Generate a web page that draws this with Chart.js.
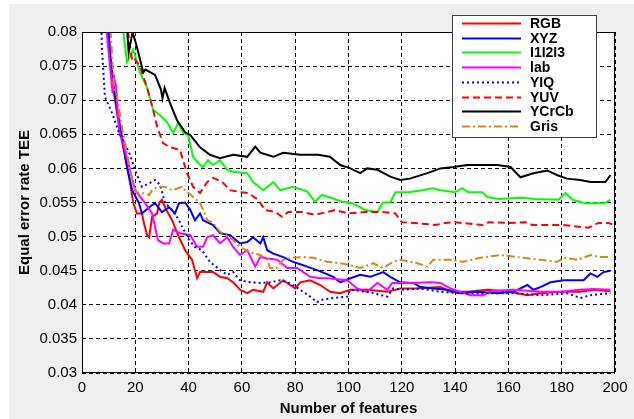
<!DOCTYPE html>
<html>
<head>
<meta charset="utf-8">
<script src="https://cdn.jsdelivr.net/npm/chart.js@4.4.0/dist/chart.umd.min.js"></script>
<style>
  html, body { margin: 0; padding: 0; background: #fff; }
  canvas { display: block; }
</style>
</head>
<body>
<canvas id="chart" width="634" height="419"></canvas>
<script>
// Valeurs (x = nombre de caractéristiques, y = TEE)
const seriesNames = ['RGB', 'XYZ', 'I1I2I3', 'lab', 'YIQ', 'YUV', 'YCrCb', 'Gris'];

const rgbX = [8, 10, 12, 14, 16, 18, 19.2, 20.6, 22.5, 23, 24.4, 25.2, 26.3, 28.2, 29, 30, 31.5, 33.8, 36.4, 38.7, 41.3, 43.2, 44.3, 49.2, 51.8, 54.5, 56.7, 59.3, 62, 64.2, 68, 69.5, 71.8, 75.5, 78.1, 80, 81.9, 85.6, 89.4, 93.1, 96.9, 100.7, 107, 114.6, 119.4, 125.8, 134.5, 138.2, 144.6, 152.1, 159.6, 167.1, 172, 179.5, 187, 191.9, 198.3];
const rgbY = [0.085, 0.078, 0.071, 0.066, 0.062, 0.058, 0.055, 0.0534, 0.0534, 0.0524, 0.0502, 0.0499, 0.0529, 0.0534, 0.055, 0.0554, 0.054, 0.0524, 0.0499, 0.048, 0.0466, 0.0439, 0.0448, 0.0448, 0.0441, 0.0439, 0.0433, 0.0422, 0.0417, 0.0422, 0.0419, 0.0433, 0.0424, 0.0436, 0.0429, 0.0424, 0.0433, 0.0436, 0.0429, 0.0419, 0.0417, 0.0422, 0.0422, 0.0419, 0.0424, 0.0424, 0.0426, 0.0419, 0.0419, 0.0422, 0.042, 0.0414, 0.0417, 0.0419, 0.0419, 0.0422, 0.042];

const xyzX = [9, 11, 13, 15, 17, 18.8, 21.4, 22.5, 25.2, 27.4, 30, 32.7, 34.9, 36.4, 38.7, 40.5, 42.4, 44.3, 45.4, 49.2, 51.8, 55.6, 59.3, 62, 64.2, 66.9, 68, 69.5, 71.8, 75.5, 79.2, 83, 84.5, 89.4, 94.3, 96.9, 100.7, 104.4, 108.2, 113, 115.7, 119.4, 124.3, 127, 131.8, 137.1, 142, 148.4, 155.9, 161.9, 167.1, 169.4, 172, 175.8, 180.7, 188.2, 190.8, 193.4, 195.7, 198.3];
const xyzY = [0.085, 0.075, 0.069, 0.0646, 0.06, 0.0568, 0.0549, 0.0534, 0.0543, 0.0549, 0.0536, 0.0543, 0.0534, 0.0549, 0.055, 0.054, 0.0524, 0.0534, 0.0524, 0.0517, 0.0505, 0.0502, 0.049, 0.0492, 0.0499, 0.049, 0.0499, 0.048, 0.0475, 0.047, 0.0463, 0.0458, 0.0456, 0.0449, 0.0441, 0.0433, 0.0439, 0.0444, 0.0441, 0.0448, 0.0441, 0.0433, 0.0432, 0.0426, 0.0424, 0.0422, 0.0417, 0.0419, 0.0417, 0.0419, 0.0429, 0.0422, 0.0426, 0.0433, 0.0436, 0.0436, 0.0446, 0.0441, 0.0448, 0.045];

const i1i2i3X = [15, 15.5, 16.9, 19.2, 21.8, 24.4, 26.7, 29.3, 31.9, 34.2, 36.1, 38, 39.8, 41.7, 43.6, 45.4, 47.3, 49.2, 51.8, 54.5, 56.7, 62, 64.2, 68, 71.8, 74.4, 79.2, 84.5, 87.5, 90, 92.4, 97.7, 101.4, 106.3, 110.8, 113, 115.7, 117.6, 122.5, 127.7, 131.5, 134.5, 140, 142.7, 145, 150.2, 152.1, 156.2, 165.3, 170.1, 178.8, 181.4, 184, 188.9, 193.8, 196, 198.3];
const i1i2i3Y = [0.085, 0.08, 0.0756, 0.0774, 0.074, 0.0719, 0.0686, 0.0678, 0.0668, 0.0652, 0.0667, 0.0652, 0.0649, 0.0617, 0.0608, 0.0602, 0.0612, 0.0605, 0.0612, 0.0598, 0.0595, 0.0593, 0.058, 0.0568, 0.058, 0.0568, 0.0573, 0.0566, 0.0551, 0.0561, 0.0558, 0.0551, 0.0549, 0.0539, 0.0536, 0.055, 0.055, 0.0565, 0.0565, 0.0568, 0.0571, 0.0568, 0.0565, 0.0571, 0.0565, 0.0565, 0.0558, 0.0555, 0.0557, 0.0555, 0.0554, 0.0564, 0.0554, 0.0549, 0.0549, 0.0549, 0.0554];

const labX = [8, 10, 11.5, 12, 12.8, 13.9, 16.1, 18, 19.9, 23.7, 26.3, 28.5, 30.5, 32.7, 34.2, 36.8, 40.6, 43.2, 45.4, 47, 49.2, 51.8, 54.5, 56.7, 59.3, 62, 65, 66.9, 69.5, 73.3, 77, 80.8, 83, 85.6, 89.4, 92, 99.5, 103.3, 107, 110.8, 114.6, 116.4, 119.4, 124, 130.7, 134.5, 138.2, 145.7, 150.6, 153.2, 161.9, 172, 179.5, 187, 191.9, 198.3];
const labY = [0.085, 0.077, 0.071, 0.0734, 0.072, 0.0656, 0.0627, 0.0598, 0.0568, 0.0549, 0.0534, 0.0495, 0.049, 0.049, 0.051, 0.0505, 0.0502, 0.0485, 0.0485, 0.0499, 0.0502, 0.049, 0.0499, 0.0485, 0.0473, 0.048, 0.0456, 0.047, 0.0468, 0.0466, 0.0454, 0.0454, 0.0448, 0.0441, 0.0439, 0.0439, 0.0436, 0.0424, 0.0419, 0.0432, 0.0422, 0.0432, 0.0432, 0.0432, 0.0433, 0.0432, 0.0424, 0.0414, 0.0414, 0.042, 0.0422, 0.0419, 0.0419, 0.0422, 0.0423, 0.0422];

const yiqX = [7, 7.5, 8.6, 11.3, 13.9, 17.7, 19.9, 22.5, 25.2, 27.4, 29.3, 31.2, 33.8, 36.4, 37.6, 40.2, 42.4, 45, 48, 51.8, 54.5, 56.7, 59.3, 63.1, 66.9, 70.6, 74.4, 77, 79.2, 81.9, 85.6, 88.2, 89.4, 94.3, 99.5, 100.7, 107, 114.6, 116.8, 120.6, 127, 134.5, 142, 152.1, 161.9, 172, 182, 187, 190.8, 198.3];
const yiqY = [0.085, 0.0774, 0.0705, 0.0681, 0.0652, 0.0623, 0.0598, 0.0573, 0.0578, 0.0583, 0.0576, 0.0549, 0.0539, 0.0524, 0.0514, 0.0495, 0.0485, 0.048, 0.0463, 0.0451, 0.0444, 0.0448, 0.0436, 0.0433, 0.0432, 0.0433, 0.0436, 0.0433, 0.0429, 0.0422, 0.0412, 0.0404, 0.0407, 0.041, 0.0412, 0.0422, 0.0419, 0.0412, 0.0424, 0.0422, 0.0424, 0.0419, 0.0417, 0.0417, 0.0417, 0.0414, 0.0417, 0.041, 0.0414, 0.0417];

const yuvX = [17, 17.3, 18.8, 19.6, 21.8, 24.4, 26.7, 28.2, 30.4, 33.1, 36.8, 39.4, 41.7, 44.3, 47, 49.2, 52.6, 55.6, 60, 62.3, 66.1, 68.7, 72.5, 75.1, 77.4, 82.6, 87.5, 95, 100, 106.3, 112.7, 117.6, 120, 125, 132.6, 136.3, 140, 150.2, 152.5, 160, 166.4, 169, 176.5, 180.3, 187.8, 190, 193.8, 197.6, 199];
const yuvY = [0.085, 0.08, 0.0759, 0.0762, 0.0749, 0.0719, 0.0686, 0.0661, 0.0637, 0.0631, 0.0627, 0.0593, 0.0573, 0.0564, 0.058, 0.0586, 0.058, 0.0568, 0.0565, 0.0564, 0.0554, 0.0539, 0.0536, 0.0529, 0.0536, 0.0536, 0.0532, 0.0539, 0.0534, 0.0536, 0.0536, 0.0534, 0.0521, 0.052, 0.0517, 0.052, 0.0521, 0.0517, 0.0521, 0.052, 0.0521, 0.0517, 0.0517, 0.0517, 0.0514, 0.0513, 0.052, 0.052, 0.0518];

const ycrcbX = [16.5, 17, 17.5, 19, 20.6, 23, 23.8, 27.4, 29.6, 30.2, 31, 33, 35.6, 38.7, 40.6, 44.3, 48, 51.8, 56.7, 62, 65, 66.9, 71.8, 75.5, 81.9, 88.6, 93, 96.9, 100.7, 104.4, 107, 110.8, 115.7, 119.4, 123, 129.6, 134.5, 139.4, 144.6, 149.5, 155.9, 160.8, 164.5, 169.4, 174.6, 178.4, 182, 187, 190.8, 196.4, 198.3];
const ycrcbY = [0.085, 0.08, 0.077, 0.08, 0.0778, 0.0741, 0.0745, 0.0737, 0.0716, 0.0703, 0.0718, 0.0696, 0.0671, 0.0653, 0.0649, 0.0631, 0.062, 0.0615, 0.062, 0.0617, 0.0632, 0.0623, 0.0617, 0.0623, 0.062, 0.062, 0.0617, 0.0605, 0.06, 0.0593, 0.06, 0.0598, 0.0588, 0.0583, 0.0585, 0.0593, 0.06, 0.0602, 0.0605, 0.0605, 0.0605, 0.0602, 0.0587, 0.0593, 0.0597, 0.059, 0.0585, 0.0583, 0.058, 0.058, 0.059];

const grisX = [10, 12, 13, 15, 17, 19, 20.5, 22.5, 25.2, 26.3, 28.2, 31.2, 33.8, 37.6, 38.7, 41.7, 44.3, 45.5, 47, 49.2, 51.8, 55.6, 59.3, 63.1, 66.9, 69.5, 70.6, 73, 75.5, 79.2, 83, 86.8, 92, 96.9, 100.7, 104.4, 109.3, 113, 116.8, 119.4, 125.8, 129.6, 131.8, 138.2, 143.1, 149.5, 157, 163.3, 172, 178.4, 180.7, 186, 190.8, 194.5, 198.3];
const grisY = [0.085, 0.0718, 0.071, 0.066, 0.062, 0.058, 0.0565, 0.0564, 0.0561, 0.0568, 0.0573, 0.0573, 0.0568, 0.0573, 0.0568, 0.0558, 0.0549, 0.0539, 0.0524, 0.052, 0.0507, 0.0499, 0.0485, 0.0477, 0.0473, 0.0466, 0.0454, 0.0454, 0.0466, 0.0469, 0.047, 0.0469, 0.0463, 0.0461, 0.0458, 0.0454, 0.0461, 0.0454, 0.0463, 0.0466, 0.0461, 0.0456, 0.0466, 0.0466, 0.0463, 0.0469, 0.0473, 0.047, 0.0466, 0.0463, 0.0469, 0.0466, 0.0473, 0.047, 0.047];

// Graduations des axes
const xTicks = [0, 20, 40, 60, 80, 100, 120, 140, 160, 180, 200];
const yTicks = [0.03, 0.035, 0.04, 0.045, 0.05, 0.055, 0.06, 0.065, 0.07, 0.075, 0.08];

// Fusionne x et y en points pour Chart.js
function toPoints(xs, ys) {
    return xs.map((x, i) => ({ x: x, y: ys[i] }));
}

const styles = [
    { color: '#ff0000', dash: [] },
    { color: '#0000ff', dash: [] },
    { color: '#00ff00', dash: [] },
    { color: '#ff00ff', dash: [] },
    { color: '#0000ff', dash: [2, 3] },
    { color: '#ff0000', dash: [7, 4] },
    { color: '#000000', dash: [] },
    { color: '#dd8418', dash: [8, 3, 2, 3] }
];
const allX = [rgbX, xyzX, i1i2i3X, labX, yiqX, yuvX, ycrcbX, grisX];
const allY = [rgbY, xyzY, i1i2i3Y, labY, yiqY, yuvY, ycrcbY, grisY];

const datasets = seriesNames.map((name, i) => ({
    label: name,
    data: toPoints(allX[i], allY[i]),
    borderColor: styles[i].color,
    borderDash: styles[i].dash,
    borderWidth: 2,
    pointRadius: 0,
    tension: 0,
    fill: false,
    clip: 0,
    order: seriesNames.length - i
}));

// Fond gris de la figure, zone blanche, cadre et légende façon MATLAB
const figurePlugin = {
    id: 'figure',
    beforeDraw(chart) {
        const ctx = chart.ctx;
        const a = chart.chartArea;
        ctx.save();
        ctx.fillStyle = '#ffffff';
        ctx.fillRect(0, 0, chart.width, chart.height);
        ctx.fillStyle = '#efefef';
        ctx.fillRect(9, 4, chart.width - 9, chart.height - 4);
        ctx.fillStyle = '#ffffff';
        ctx.fillRect(a.left, a.top, a.right - a.left, a.bottom - a.top);
        ctx.restore();
    },
    afterDatasetsDraw(chart) {
        const ctx = chart.ctx;
        const a = chart.chartArea;
        ctx.save();
        ctx.strokeStyle = '#000';
        ctx.lineWidth = 1;
        ctx.strokeRect(a.left + 0.5, a.top + 0.5, a.right - a.left - 1, a.bottom - a.top - 1);

        // légende
        const bx = 452, by = 15, bw = 144, bh = 122;
        ctx.fillStyle = '#ffffff';
        ctx.fillRect(bx, by, bw, bh);
        ctx.strokeStyle = '#404040';
        ctx.strokeRect(bx + 0.5, by + 0.5, bw, bh);
        ctx.font = 'bold 14px "Liberation Sans", Arial';
        ctx.textBaseline = 'middle';
        ctx.textAlign = 'left';
        chart.data.datasets.forEach((ds, i) => {
            const y = Math.round(23 + i * 14.7) + 0.5;
            ctx.strokeStyle = ds.borderColor;
            ctx.lineWidth = 2;
            ctx.setLineDash(ds.borderDash);
            ctx.beginPath();
            ctx.moveTo(462, y);
            ctx.lineTo(521, y);
            ctx.stroke();
            ctx.setLineDash([]);
            ctx.fillStyle = '#000';
            ctx.fillText(ds.label, 530, y + 1);
        });
        ctx.restore();
    }
};

new Chart(document.getElementById('chart'), {
    type: 'line',
    data: { datasets: datasets },
    options: {
        responsive: false,
        animation: false,
        devicePixelRatio: 1,
        layout: { padding: { top: 32, right: 19, left: 0, bottom: 0 } },
        plugins: {
            legend: { display: false },
            tooltip: { enabled: false }
        },
        scales: {
            x: {
                type: 'linear',
                min: 0,
                max: 200,
                afterFit(scale) { scale.height = 46; },
                afterBuildTicks(scale) { scale.ticks = xTicks.map(v => ({ value: v })); },
                ticks: {
                    color: '#000',
                    padding: 6,
                    maxRotation: 0,
                    font: { family: '"Liberation Sans", Arial', size: 15 },
                    callback: v => String(v)
                },
                grid: { color: '#000', lineWidth: 1, drawTicks: false },
                border: { display: false, dash: [4, 3] },
                title: {
                    display: true,
                    text: 'Number of features',
                    color: '#000',
                    font: { family: '"Liberation Sans", Arial', size: 15, weight: 'bold' },
                    padding: { top: 0, bottom: 1 }
                }
            },
            y: {
                type: 'linear',
                min: 0.03,
                max: 0.08,
                afterFit(scale) { scale.width = 82; },
                afterBuildTicks(scale) { scale.ticks = yTicks.map(v => ({ value: v })); },
                ticks: {
                    color: '#000',
                    padding: 5,
                    font: { family: '"Liberation Sans", Arial', size: 15 },
                    callback: v => String(+v.toFixed(3))
                },
                grid: { color: '#000', lineWidth: 1, drawTicks: false },
                border: { display: false, dash: [4, 3] },
                title: {
                    display: true,
                    text: 'Equal error rate TEE',
                    color: '#000',
                    font: { family: '"Liberation Sans", Arial', size: 15, weight: 'bold' },
                    padding: { top: 16, bottom: 0 }
                }
            }
        }
    },
    plugins: [figurePlugin]
});
</script>
</body>
</html>
